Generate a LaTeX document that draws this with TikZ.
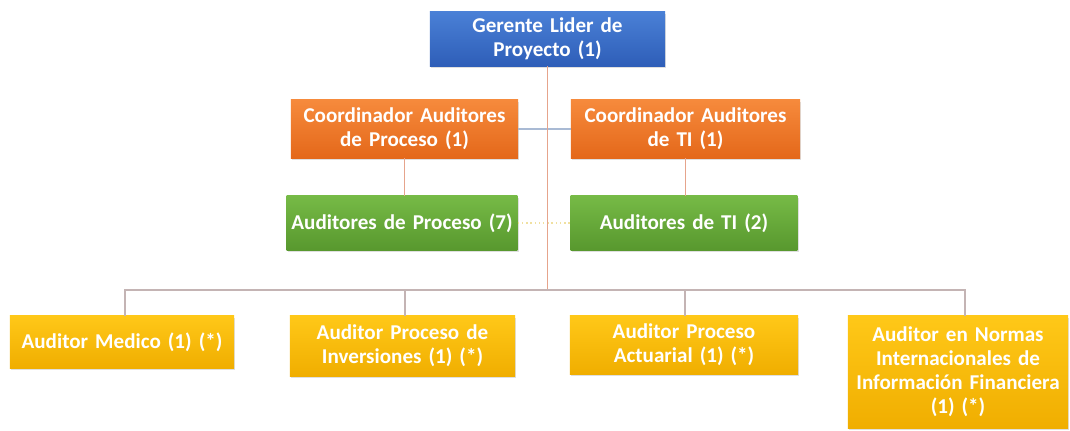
\documentclass[tikz,border=0pt]{standalone}
\usepackage{fontspec}
\setmainfont{Carlito}
\usetikzlibrary{shadows}

\definecolor{linesalmon}{HTML}{E6A48C}
\definecolor{linegrey}{HTML}{C4B4B4}
\definecolor{lineblue}{HTML}{A9BAD4}
\definecolor{linepale}{HTML}{F0E0A0}

\tikzset{
  orgbox/.style={rectangle, inner sep=1pt, align=center, text=white,
    font=\bfseries\fontsize{15}{17}\selectfont,
    drop shadow={shadow xshift=1pt, shadow yshift=-1.5pt, opacity=0.25}},
  bluebox/.style={orgbox, top color={rgb,255:red,74;green,128;blue,214}, bottom color={rgb,255:red,46;green,94;blue,184}},
  orangebox/.style={orgbox, top color={rgb,255:red,246;green,138;blue,60}, bottom color={rgb,255:red,228;green,104;blue,26}},
  greenbox/.style={orgbox, top color={rgb,255:red,118;green,186;blue,70}, bottom color={rgb,255:red,88;green,152;blue,46}},
  yellowbox/.style={orgbox, top color={rgb,255:red,255;green,200;blue,24}, bottom color={rgb,255:red,240;green,174;blue,0}},
  conn/.style={draw=linesalmon, line width=1.2pt},
  busline/.style={draw=linegrey, line width=1pt}
}

\begin{document}
\begin{tikzpicture}[x=0.025cm, y=-0.025cm]
    \useasboundingbox (0,0) rectangle (1070,431);

    % top
    \node[bluebox, minimum width=5.875cm, minimum height=1.35cm, text width=5.8cm] (lider) at (547.5,39) {Gerente Lider de\\Proyecto (1)};

    % coordinators
    \node[orangebox, minimum width=5.675cm, minimum height=1.45cm, text width=5.6cm] (coordp) at (404.5,129) {Coordinador Auditores\\de Proceso (1)};
    \node[orangebox, minimum width=5.725cm, minimum height=1.45cm, text width=5.6cm] (coordti) at (685.5,129) {Coordinador Auditores\\de TI (1)};

    % auditor teams
    \node[greenbox, minimum width=5.75cm, minimum height=1.35cm, text width=5.7cm] (audp) at (402,223) {Auditores de Proceso (7)};
    \node[greenbox, minimum width=5.65cm, minimum height=1.35cm, text width=5.6cm] (audti) at (684,223) {Auditores de TI (2)};

    % specialists
    \node[yellowbox, minimum width=5.6cm, minimum height=1.3cm, text width=5.5cm] (medico) at (122,342) {Auditor Medico (1) (*)};
    \node[yellowbox, minimum width=5.625cm, minimum height=1.5cm, text width=5.5cm] (invers) at (402.5,346) {Auditor Proceso de\\Inversiones (1) (*)};
    \node[yellowbox, minimum width=5.7cm, minimum height=1.45cm, text width=5.6cm] (actuar) at (684,345) {Auditor Proceso\\Actuarial (1) (*)};
    \node[yellowbox, minimum width=5.5cm, minimum height=2.8cm, text width=5.4cm] (niif) at (958,372) {Auditor en Normas\\Internacionales de\\Información Financiera\\(1) (*)};

    \coordinate (bus) at (lider.south |- 0,290);

    \draw[draw=lineblue, line width=1pt] (coordp.east) -- (coordti.west);
    \draw[draw=linepale, line width=1pt, dotted] (audp.east) -- (audti.west);
    \draw[conn] (lider.south) -- (bus);
    \draw[conn] (coordp.south) -- (coordp.south |- audp.north);
    \draw[conn] (coordti.south) -- (coordti.south |- audti.north);

    \foreach \n/\xx in {medico/125, invers/405, actuar/685, niif/965}
        \draw[busline] (bus) -- (\xx,290) -- (\xx,316);
\end{tikzpicture}
\end{document}
